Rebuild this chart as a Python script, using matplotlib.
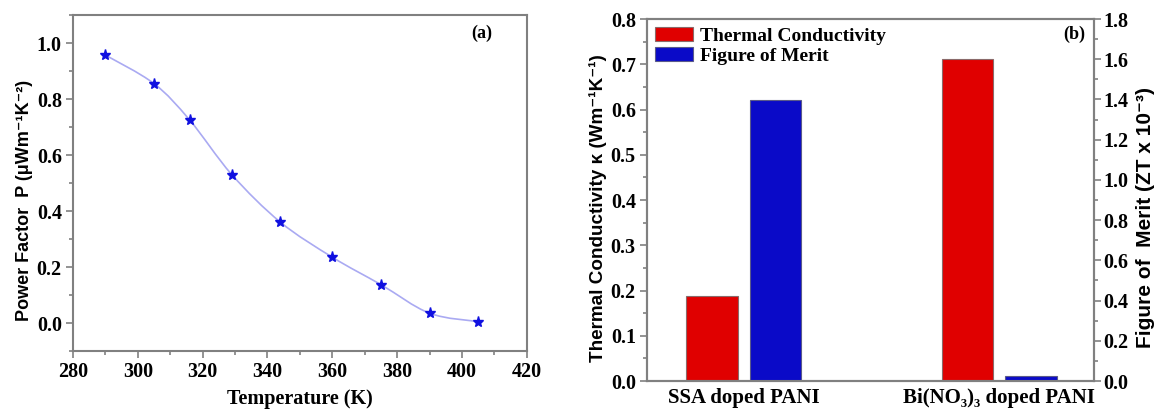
import numpy as np
import matplotlib
matplotlib.use("Agg")
import matplotlib.pyplot as plt
from matplotlib.path import Path
from matplotlib.patches import PathPatch
from matplotlib.ticker import MultipleLocator

# (a) power factor vs temperature
temp_k = [290, 305, 316, 329, 344, 360, 375, 390, 405]
power_factor = [0.957, 0.855, 0.725, 0.530, 0.360, 0.235, 0.137, 0.035, 0.005]

# (b) thermal conductivity and figure of merit
samples = ["SSA doped PANI", "Bi(NO\u2083)\u2083 doped PANI"]
kappa = [0.187, 0.711]
zt = [1.395, 0.025]

SERIF = ["Liberation Serif", "DejaVu Serif"]
SANS = ["Liberation Sans", "DejaVu Sans"]
SPINE = "#808080"

plt.rcParams["font.family"] = SERIF
plt.rcParams["font.weight"] = "bold"
plt.rcParams["axes.labelweight"] = "bold"
plt.rcParams["font.size"] = 14


def smooth_path(x, y):
    # Catmull-Rom segments handed to matplotlib as cubic Bezier curves
    x = np.asarray(x, float)
    y = np.asarray(y, float)
    px = np.r_[x[0], x, x[-1]]
    py = np.r_[y[0], y, y[-1]]
    verts = [(x[0], y[0])]
    codes = [Path.MOVETO]
    for i in range(1, len(px) - 2):
        c1 = (px[i] + (px[i + 1] - px[i - 1]) / 6, py[i] + (py[i + 1] - py[i - 1]) / 6)
        c2 = (px[i + 1] - (px[i + 2] - px[i]) / 6, py[i + 1] - (py[i + 2] - py[i]) / 6)
        verts += [c1, c2, (px[i + 1], py[i + 1])]
        codes += [Path.CURVE4] * 3
    return Path(verts, codes)


def style_axes(ax):
    for s in ax.spines.values():
        s.set_color(SPINE)
        s.set_linewidth(1.5)
    ax.tick_params(which="both", direction="out", color=SPINE, width=1.2, labelsize=14.5)
    ax.tick_params(which="major", length=5, pad=3)
    ax.tick_params(which="minor", length=3)


fig = plt.figure(figsize=(11.58, 4.12), dpi=100)

# ---- panel (a)
ax1 = fig.add_axes([0.063, 0.148, 0.392, 0.8155])
ax1.add_patch(PathPatch(smooth_path(temp_k, power_factor), fill=False,
                        edgecolor="#aaaaf2", linewidth=1.2))
ax1.plot(temp_k, power_factor, linestyle="none", marker="*", markersize=8,
         color="#1010e0", markeredgecolor="#1010e0")
ax1.set_xlim(280, 420)
ax1.set_ylim(-0.1, 1.1)
ax1.xaxis.set_major_locator(MultipleLocator(20))
ax1.xaxis.set_minor_locator(MultipleLocator(10))
ax1.yaxis.set_minor_locator(MultipleLocator(0.1))
ax1.set_yticks([0.0, 0.2, 0.4, 0.6, 0.8, 1.0])
ax1.set_xlabel("Temperature (K)", fontsize=14.5, labelpad=5)
ax1.set_ylabel("Power Factor  P (\u03bcWm\u207b\u00b9K\u207b\u00b2)",
               family=SANS, fontsize=13, labelpad=3)
ax1.yaxis.label.set_y(0.449)
ax1.text(0.923, 0.97, "(a)", transform=ax1.transAxes, ha="right", va="top", fontsize=13)
style_axes(ax1)

# ---- panel (b)
ax2 = fig.add_axes([0.5587, 0.0752, 0.386, 0.8786])
ax3 = ax2.twinx()
grp = np.arange(len(samples))
w = 0.201
off = 0.124
b1 = ax2.bar(grp - off, kappa, width=w, color="#e00000", edgecolor="#8a6a6a",
             linewidth=0.8, label="Thermal Conductivity")
b2 = ax3.bar(grp + off, zt, width=w, color="#0a0ac8", edgecolor="#5a5a8a",
             linewidth=0.8, label="Figure of Merit")
ax2.set_xlim(-0.378, 1.3695)
ax2.set_ylim(0, 0.8)
ax3.set_ylim(0, 1.8)
ax2.yaxis.set_major_locator(MultipleLocator(0.1))
ax2.yaxis.set_minor_locator(MultipleLocator(0.05))
ax3.yaxis.set_major_locator(MultipleLocator(0.2))
ax3.yaxis.set_minor_locator(MultipleLocator(0.1))
ax2.set_xticks(grp)
ax2.set_xticklabels(samples)
ax2.set_ylabel("Thermal Conductivity \u03ba (Wm\u207b\u00b9K\u207b\u00b9)",
               family=SANS, fontsize=13.6, labelpad=3)
ax2.yaxis.label.set_y(0.479)
ax3.set_ylabel("Figure of  Merit (ZT x 10\u207b\u00b3)",
               family=SANS, fontsize=15, labelpad=5)
ax3.yaxis.label.set_y(0.453)
ax2.text(0.98, 0.983, "(b)", transform=ax2.transAxes, ha="right", va="top", fontsize=13)
ax2.legend([b1, b2], ["Thermal Conductivity", "Figure of Merit"], loc="upper left",
           frameon=False, handlelength=1.95, handleheight=0.72, handletextpad=0.36,
           borderaxespad=0.2, borderpad=0.2, labelspacing=0.12,
           prop={"family": SERIF, "weight": "bold", "size": 14})
style_axes(ax2)
style_axes(ax3)
ax3.tick_params(which="major", pad=2)
ax2.tick_params(axis="x", which="both", length=0, pad=5, labelsize=15)

fig.savefig("out.png", dpi=100)
